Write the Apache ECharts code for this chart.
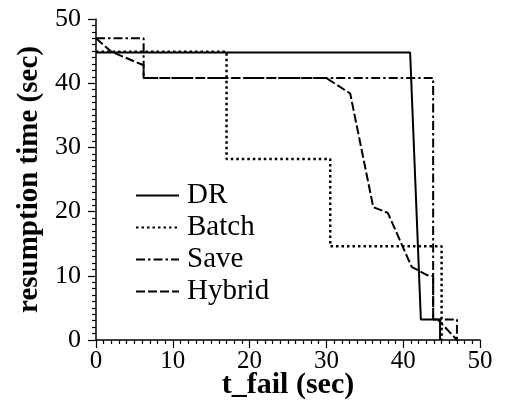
<!DOCTYPE html>
<html><head><meta charset="utf-8">
<script src="https://cdn.jsdelivr.net/npm/echarts@6/dist/echarts.min.js"></script>
<style>html,body{margin:0;padding:0;background:#fff}#c{width:515px;height:401px}</style>
</head><body><div id="c"></div>
<script>
const xTicks = [0, 10, 20, 30, 40, 50];
const yTicks = [0, 10, 20, 30, 40, 50];
const seriesNames = ['DR', 'Batch', 'Save', 'Hybrid'];
const drData = [[0,44.8],[40.9,44.8],[42.3,3.2],[44.8,3.2],[44.8,0]];
const batchData = [[0,44.9],[17,44.9],[17,28.2],[30.5,28.2],[30.5,14.6],[45,14.6],[45,0]];
const saveData = [[0,47],[6.2,47],[6.2,40.8],[43.9,40.8],[43.9,3.2],[47,3.2],[47,0]];
const hybridData = [[0,47],[2,44.9],[6.2,42.8],[6.2,40.8],[30,40.8],[33.1,38.4],[36.1,20.7],[38,19.8],[41.1,11.4],[43.1,10.1],[43.9,10],[43.9,3.3],[44.5,3.2],[47,0]];

const font = '"Liberation Serif","Times New Roman",serif';
const chart = echarts.init(document.getElementById('c'), null, {renderer:'canvas'});
const styles = [
  {type:'solid', width:2},
  {type:[2.5,3], width:2.5},
  {type:[9,3,2.5,3], width:2},
  {type:[9,3], width:2}
];
const datas = [drData, batchData, saveData, hybridData];
chart.setOption({
  animation:false,
  backgroundColor:'#fff',
  grid:{left:96, right:35, top:19, bottom:61, containLabel:false, outerBoundsMode:'none'},
  legend:{
    orient:'vertical', left:135, top:181, padding:0,
    itemWidth:43, itemHeight:14, itemGap:3,
    data: seriesNames,
    itemStyle:{opacity:0},
    textStyle:{fontFamily:font, fontSize:29, color:'#000', lineHeight:29, padding:[0,0,0,3]}
  },
  xAxis:{
    type:'value', min:xTicks[0], max:xTicks[xTicks.length-1], interval:10,
    name:'t_fail (sec)', nameLocation:'middle', nameGap:30, nameMoveOverlap:false,
    nameTextStyle:{fontFamily:font, fontSize:30, fontWeight:'bold', color:'#000'},
    axisLine:{show:true, onZero:false, lineStyle:{color:'#000', width:1.5}},
    axisTick:{show:true, inside:false, length:8, lineStyle:{color:'#000', width:1.2}},
    minorTick:{show:true, splitNumber:10, length:4, lineStyle:{color:'#000', width:1.2}},
    axisLabel:{fontFamily:font, fontSize:25, color:'#000', margin:9},
    splitLine:{show:false}
  },
  yAxis:{
    type:'value', min:yTicks[0], max:yTicks[yTicks.length-1], interval:10,
    name:'resumption time (sec)', nameLocation:'middle', nameGap:52, nameMoveOverlap:false,
    nameTextStyle:{fontFamily:font, fontSize:29, fontWeight:'bold', color:'#000'},
    axisLine:{show:true, onZero:false, lineStyle:{color:'#000', width:1.5}},
    axisTick:{show:true, inside:false, length:8, lineStyle:{color:'#000', width:1.2}},
    minorTick:{show:true, splitNumber:10, length:4, lineStyle:{color:'#000', width:1.2}},
    axisLabel:{fontFamily:font, fontSize:26, color:'#000', margin:15},
    splitLine:{show:false}
  },
  series: seriesNames.map((n,i)=>({
    name:n, type:'line', data:datas[i], symbol:'none', color:'#000',
    lineStyle:Object.assign({color:'#000'}, styles[i])
  }))
});
</script></body></html>
